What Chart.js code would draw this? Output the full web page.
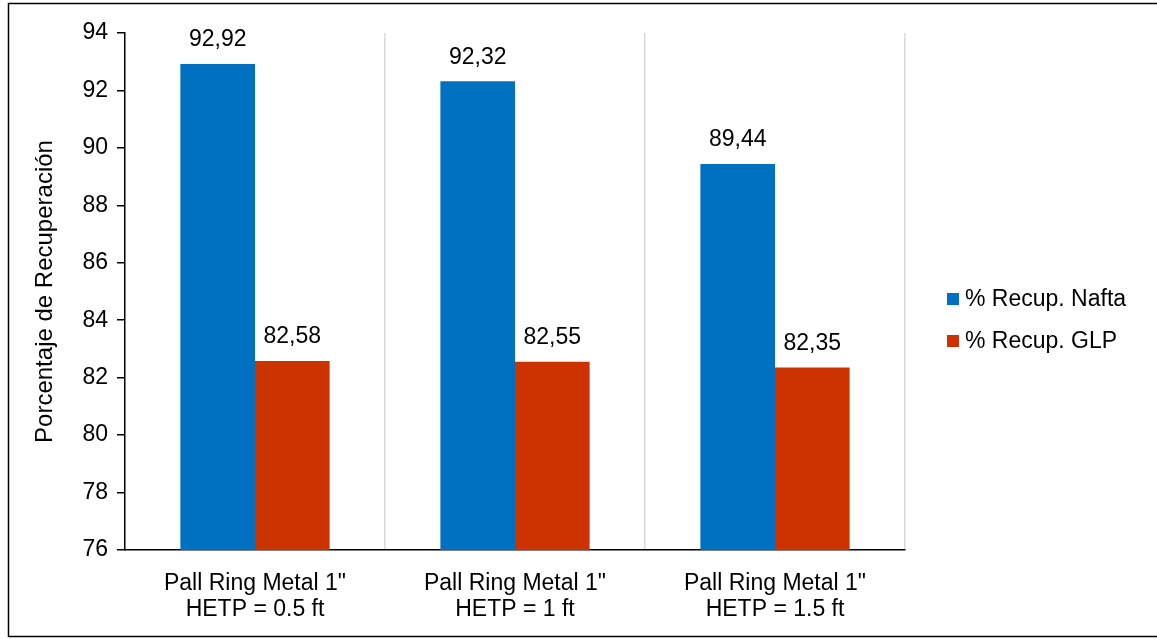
<!DOCTYPE html>
<html>
<head>
<meta charset="utf-8">
<script src="https://cdn.jsdelivr.net/npm/chart.js@4.4.1/dist/chart.umd.min.js"></script>
<style>
  html, body { margin: 0; padding: 0; background: #fff; }
  #wrap { width: 1157px; height: 639px; position: relative; }
</style>
</head>
<body>
<div id="wrap"><canvas id="c" width="1157" height="639"></canvas></div>
<script>
const categories = [
  ['Pall Ring Metal 1"', 'HETP = 0.5 ft'],
  ['Pall Ring Metal 1"', 'HETP = 1 ft'],
  ['Pall Ring Metal 1"', 'HETP = 1.5 ft']
];
const seriesNames = ['% Recup. Nafta', '% Recup. GLP'];
const naftaValues = [92.92, 92.32, 89.44];
const glpValues = [82.58, 82.55, 82.35];
const yMin = 76, yMax = 94, yStep = 2;
const yTitle = 'Porcentaje de Recuperación';

const FONT = "'Liberation Sans', Arial, sans-serif";
const blue = '#0070C0';
const red = '#CC3300';

const framePlugin = {
  id: 'frame',
  beforeDraw(chart) {
    const ctx = chart.ctx;
    ctx.save();
    ctx.fillStyle = '#fff';
    ctx.fillRect(0, 0, chart.width, chart.height);
    ctx.restore();
  },
  afterDraw(chart) {
    const ctx = chart.ctx;
    ctx.save();
    ctx.strokeStyle = '#000';
    ctx.lineWidth = 1.5;
    ctx.beginPath();
    ctx.moveTo(chart.width, 3.5);
    ctx.lineTo(8.5, 3.5);
    ctx.lineTo(8.5, 636.5);
    ctx.lineTo(chart.width, 636.5);
    ctx.stroke();
    ctx.restore();
  }
};

const valueLabels = {
  id: 'valueLabels',
  afterDatasetsDraw(chart) {
    const ctx = chart.ctx;
    ctx.save();
    ctx.font = '23px ' + FONT;
    ctx.fillStyle = '#000';
    ctx.textAlign = 'center';
    ctx.textBaseline = 'middle';
    chart.data.datasets.forEach((ds, di) => {
      const meta = chart.getDatasetMeta(di);
      meta.data.forEach((bar, i) => {
        const txt = ds.data[i].toFixed(2).replace('.', ',');
        ctx.fillText(txt, bar.x, bar.y - 24);
      });
    });
    ctx.restore();
  }
};

const customLegend = {
  id: 'customLegend',
  afterDraw(chart) {
    const ctx = chart.ctx;
    ctx.save();
    ctx.font = '23px ' + FONT;
    ctx.textBaseline = 'middle';
    ctx.textAlign = 'left';
    const x0 = 947, rows = [299, 341];
    chart.data.datasets.forEach((ds, i) => {
      const y = rows[i];
      ctx.fillStyle = ds.backgroundColor;
      ctx.fillRect(x0, y - 6, 12, 12);
      ctx.fillStyle = '#000';
      ctx.fillText(ds.label, x0 + 18, y + 1);
    });
    ctx.restore();
  }
};

new Chart(document.getElementById('c'), {
  type: 'bar',
  data: {
    labels: categories,
    datasets: [
      { label: seriesNames[0], data: naftaValues, backgroundColor: blue, borderWidth: 0 },
      { label: seriesNames[1], data: glpValues, backgroundColor: red, borderWidth: 0 }
    ]
  },
  options: {
    responsive: false,
    animation: false,
    devicePixelRatio: 1,
    layout: { padding: { left: 31, top: 33, right: 252, bottom: 10 } },
    datasets: { bar: { barPercentage: 1.0, categoryPercentage: 0.574 } },
    plugins: {
      legend: { display: false },
      tooltip: { enabled: false }
    },
    scales: {
      x: {
        offset: true,
        grid: {
          offset: true,
          drawOnChartArea: true,
          drawTicks: false,
          color: (c) => c.index === 0 ? 'rgba(0,0,0,0)' : '#d9d9d9',
          lineWidth: 1.5
        },
        border: { display: true, color: '#000', width: 1.5 },
        ticks: {
          color: '#000',
          font: { family: FONT, size: 23, lineHeight: 1.13 },
          padding: 21,
          maxRotation: 0,
          autoSkip: false
        },
        afterFit(scale) { scale.height = 639 - 10 - 550; }
      },
      y: {
        min: yMin,
        max: yMax,
        ticks: {
          stepSize: yStep,
          color: '#000',
          font: { family: FONT, size: 23 },
          padding: 9
        },
        grid: {
          drawOnChartArea: false,
          drawTicks: true,
          tickLength: 8,
          color: '#000',
          lineWidth: 1.5
        },
        border: { display: true, color: '#000', width: 1.5 },
        title: {
          display: true,
          text: yTitle,
          color: '#000',
          font: { family: FONT, size: 24 },
          padding: { top: 0, bottom: 0 }
        },
        afterFit(scale) { scale.width = 125 - 31; }
      }
    }
  },
  plugins: [framePlugin, valueLabels, customLegend]
});
</script>
</body>
</html>
